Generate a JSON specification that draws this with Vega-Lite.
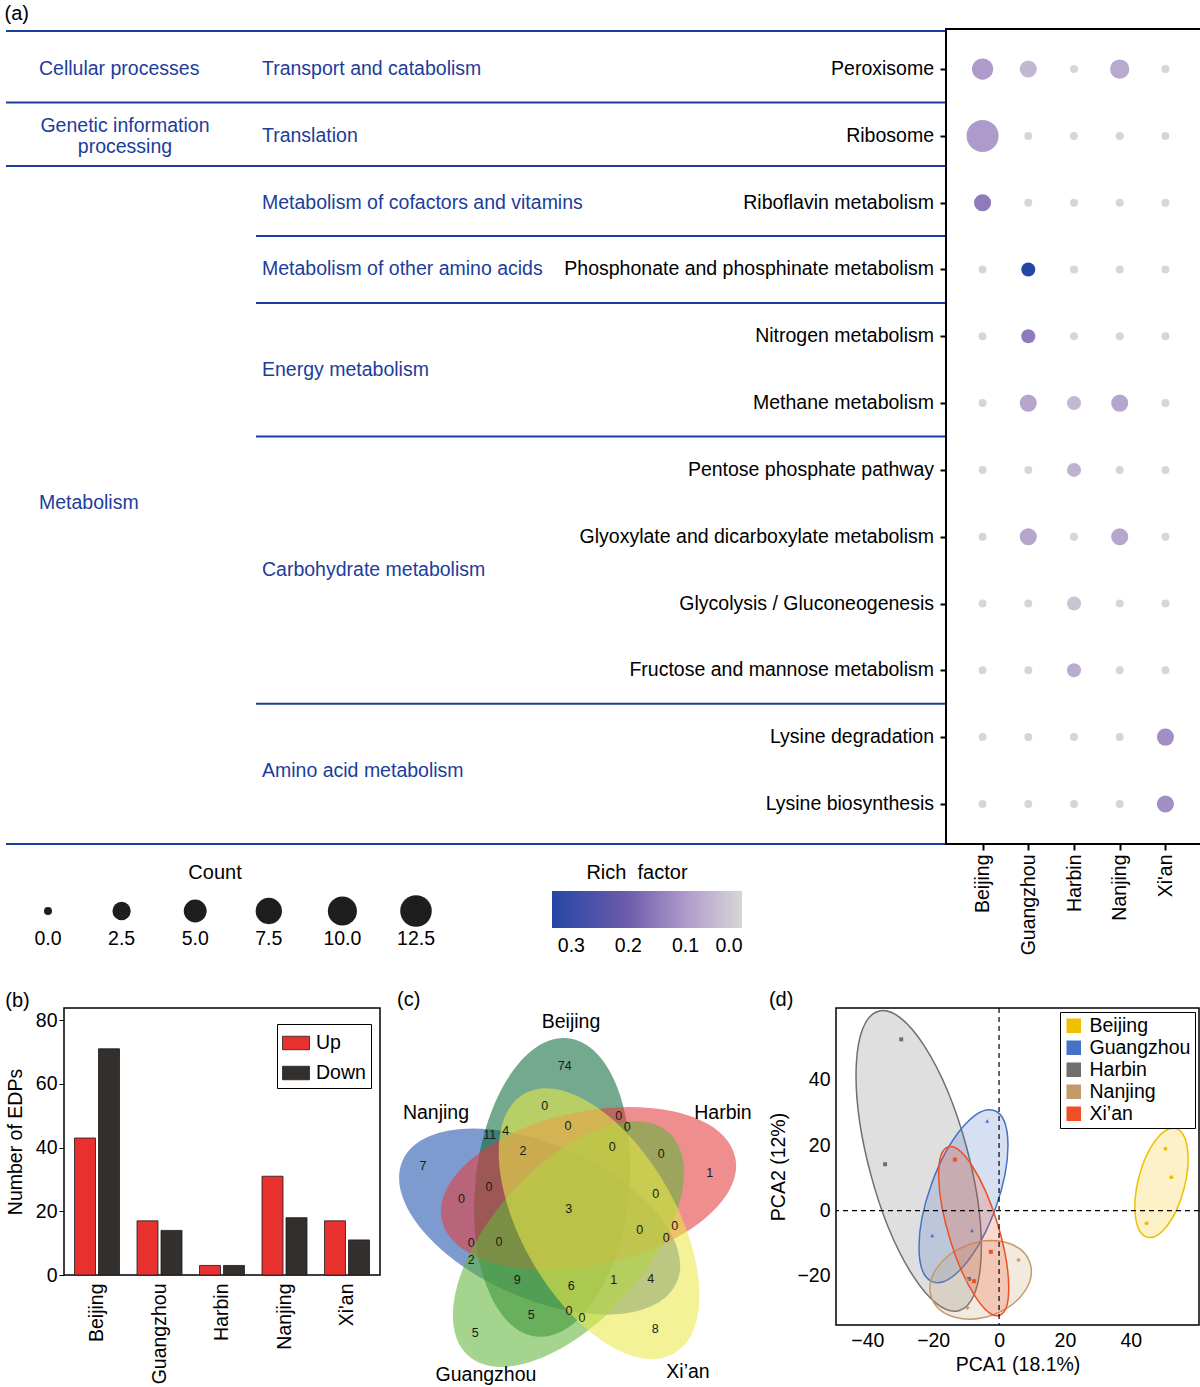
{
  "$schema": "https://vega.github.io/schema/vega-lite/v6.json",
  "padding": {"left": 4, "top": 4, "right": 0, "bottom": 0},
  "title": {"text": "(a)", "anchor": "start", "fontSize": 20, "offset": 4},
  "config": {
    "font": "Liberation Sans",
    "view": {"stroke": null},
    "axis": {"labelFont": "Liberation Sans", "titleFont": "Liberation Sans", "labelFontSize": 19.5, "titleFontSize": 19.5, "titleFontWeight": "normal", "labelColor": "#000", "titleColor": "#000", "tickColor": "#000", "grid": false},
    "legend": {"labelFont": "Liberation Sans", "labelFontSize": 19.5, "labelColor": "#000"},
    "title": {"font": "Liberation Sans", "fontWeight": "normal", "fontSize": 20, "color": "#000"},
    "text": {"font": "Liberation Sans"}
  },
  "datasets": {
    "pathways": [
      {"pathway": "Peroxisome", "rank": 1, "subcategory": "Transport and catabolism", "category": "Cellular processes"},
      {"pathway": "Ribosome", "rank": 2, "subcategory": "Translation", "category": "Genetic information\nprocessing"},
      {"pathway": "Riboflavin metabolism", "rank": 3, "subcategory": "Metabolism of cofactors and vitamins", "category": "Metabolism"},
      {"pathway": "Phosphonate and phosphinate metabolism", "rank": 4, "subcategory": "Metabolism of other amino acids", "category": "Metabolism"},
      {"pathway": "Nitrogen metabolism", "rank": 5, "subcategory": "Energy metabolism", "category": "Metabolism"},
      {"pathway": "Methane metabolism", "rank": 6, "subcategory": "Energy metabolism", "category": "Metabolism"},
      {"pathway": "Pentose phosphate pathway", "rank": 7, "subcategory": "Carbohydrate metabolism", "category": "Metabolism"},
      {"pathway": "Glyoxylate and dicarboxylate metabolism", "rank": 8, "subcategory": "Carbohydrate metabolism", "category": "Metabolism"},
      {"pathway": "Glycolysis / Gluconeogenesis", "rank": 9, "subcategory": "Carbohydrate metabolism", "category": "Metabolism"},
      {"pathway": "Fructose and mannose metabolism", "rank": 10, "subcategory": "Carbohydrate metabolism", "category": "Metabolism"},
      {"pathway": "Lysine degradation", "rank": 11, "subcategory": "Amino acid metabolism", "category": "Metabolism"},
      {"pathway": "Lysine biosynthesis", "rank": 12, "subcategory": "Amino acid metabolism", "category": "Metabolism"}
    ],
    "boundaries": [
      {"boundary_rank": 0.43, "level": 1},
      {"boundary_rank": 1.5, "level": 1},
      {"boundary_rank": 2.45, "level": 1},
      {"boundary_rank": 3.5, "level": 2},
      {"boundary_rank": 4.5, "level": 2},
      {"boundary_rank": 6.5, "level": 2},
      {"boundary_rank": 10.5, "level": 2},
      {"boundary_rank": 12.6, "level": 1}
    ],
    "dots": [
      {"pathway": "Peroxisome", "city": "Beijing", "count": 4, "rich": 0.1},
      {"pathway": "Peroxisome", "city": "Guangzhou", "count": 2, "rich": 0.05},
      {"pathway": "Peroxisome", "city": "Harbin", "count": 0, "rich": 0},
      {"pathway": "Peroxisome", "city": "Nanjing", "count": 3, "rich": 0.075},
      {"pathway": "Peroxisome", "city": "Xi'an", "count": 0, "rich": 0},
      {"pathway": "Ribosome", "city": "Beijing", "count": 13, "rich": 0.1},
      {"pathway": "Ribosome", "city": "Guangzhou", "count": 0, "rich": 0},
      {"pathway": "Ribosome", "city": "Harbin", "count": 0, "rich": 0},
      {"pathway": "Ribosome", "city": "Nanjing", "count": 0, "rich": 0},
      {"pathway": "Ribosome", "city": "Xi'an", "count": 0, "rich": 0},
      {"pathway": "Riboflavin metabolism", "city": "Beijing", "count": 2, "rich": 0.15},
      {"pathway": "Riboflavin metabolism", "city": "Guangzhou", "count": 0, "rich": 0},
      {"pathway": "Riboflavin metabolism", "city": "Harbin", "count": 0, "rich": 0},
      {"pathway": "Riboflavin metabolism", "city": "Nanjing", "count": 0, "rich": 0},
      {"pathway": "Riboflavin metabolism", "city": "Xi'an", "count": 0, "rich": 0},
      {"pathway": "Phosphonate and phosphinate metabolism", "city": "Beijing", "count": 0, "rich": 0},
      {"pathway": "Phosphonate and phosphinate metabolism", "city": "Guangzhou", "count": 1, "rich": 0.333},
      {"pathway": "Phosphonate and phosphinate metabolism", "city": "Harbin", "count": 0, "rich": 0},
      {"pathway": "Phosphonate and phosphinate metabolism", "city": "Nanjing", "count": 0, "rich": 0},
      {"pathway": "Phosphonate and phosphinate metabolism", "city": "Xi'an", "count": 0, "rich": 0},
      {"pathway": "Nitrogen metabolism", "city": "Beijing", "count": 0, "rich": 0},
      {"pathway": "Nitrogen metabolism", "city": "Guangzhou", "count": 1, "rich": 0.15},
      {"pathway": "Nitrogen metabolism", "city": "Harbin", "count": 0, "rich": 0},
      {"pathway": "Nitrogen metabolism", "city": "Nanjing", "count": 0, "rich": 0},
      {"pathway": "Nitrogen metabolism", "city": "Xi'an", "count": 0, "rich": 0},
      {"pathway": "Methane metabolism", "city": "Beijing", "count": 0, "rich": 0},
      {"pathway": "Methane metabolism", "city": "Guangzhou", "count": 2, "rich": 0.08},
      {"pathway": "Methane metabolism", "city": "Harbin", "count": 1, "rich": 0.05},
      {"pathway": "Methane metabolism", "city": "Nanjing", "count": 2, "rich": 0.08},
      {"pathway": "Methane metabolism", "city": "Xi'an", "count": 0, "rich": 0},
      {"pathway": "Pentose phosphate pathway", "city": "Beijing", "count": 0, "rich": 0},
      {"pathway": "Pentose phosphate pathway", "city": "Guangzhou", "count": 0, "rich": 0},
      {"pathway": "Pentose phosphate pathway", "city": "Harbin", "count": 1, "rich": 0.06},
      {"pathway": "Pentose phosphate pathway", "city": "Nanjing", "count": 0, "rich": 0},
      {"pathway": "Pentose phosphate pathway", "city": "Xi'an", "count": 0, "rich": 0},
      {"pathway": "Glyoxylate and dicarboxylate metabolism", "city": "Beijing", "count": 0, "rich": 0},
      {"pathway": "Glyoxylate and dicarboxylate metabolism", "city": "Guangzhou", "count": 2, "rich": 0.08},
      {"pathway": "Glyoxylate and dicarboxylate metabolism", "city": "Harbin", "count": 0, "rich": 0},
      {"pathway": "Glyoxylate and dicarboxylate metabolism", "city": "Nanjing", "count": 2, "rich": 0.08},
      {"pathway": "Glyoxylate and dicarboxylate metabolism", "city": "Xi'an", "count": 0, "rich": 0},
      {"pathway": "Glycolysis / Gluconeogenesis", "city": "Beijing", "count": 0, "rich": 0},
      {"pathway": "Glycolysis / Gluconeogenesis", "city": "Guangzhou", "count": 0, "rich": 0},
      {"pathway": "Glycolysis / Gluconeogenesis", "city": "Harbin", "count": 1, "rich": 0.03},
      {"pathway": "Glycolysis / Gluconeogenesis", "city": "Nanjing", "count": 0, "rich": 0},
      {"pathway": "Glycolysis / Gluconeogenesis", "city": "Xi'an", "count": 0, "rich": 0},
      {"pathway": "Fructose and mannose metabolism", "city": "Beijing", "count": 0, "rich": 0},
      {"pathway": "Fructose and mannose metabolism", "city": "Guangzhou", "count": 0, "rich": 0},
      {"pathway": "Fructose and mannose metabolism", "city": "Harbin", "count": 1, "rich": 0.07},
      {"pathway": "Fructose and mannose metabolism", "city": "Nanjing", "count": 0, "rich": 0},
      {"pathway": "Fructose and mannose metabolism", "city": "Xi'an", "count": 0, "rich": 0},
      {"pathway": "Lysine degradation", "city": "Beijing", "count": 0, "rich": 0},
      {"pathway": "Lysine degradation", "city": "Guangzhou", "count": 0, "rich": 0},
      {"pathway": "Lysine degradation", "city": "Harbin", "count": 0, "rich": 0},
      {"pathway": "Lysine degradation", "city": "Nanjing", "count": 0, "rich": 0},
      {"pathway": "Lysine degradation", "city": "Xi'an", "count": 2, "rich": 0.12},
      {"pathway": "Lysine biosynthesis", "city": "Beijing", "count": 0, "rich": 0},
      {"pathway": "Lysine biosynthesis", "city": "Guangzhou", "count": 0, "rich": 0},
      {"pathway": "Lysine biosynthesis", "city": "Harbin", "count": 0, "rich": 0},
      {"pathway": "Lysine biosynthesis", "city": "Nanjing", "count": 0, "rich": 0},
      {"pathway": "Lysine biosynthesis", "city": "Xi'an", "count": 2, "rich": 0.12}
    ],
    "countBreaks": [{"count": 0}, {"count": 2.5}, {"count": 5}, {"count": 7.5}, {"count": 10}, {"count": 12.5}],
    "richRange": [{"min_rich": 0, "max_rich": 0.333}],
    "edps": [
      {"city": "Beijing", "direction": "Up", "n": 43},
      {"city": "Beijing", "direction": "Down", "n": 71},
      {"city": "Guangzhou", "direction": "Up", "n": 17},
      {"city": "Guangzhou", "direction": "Down", "n": 14},
      {"city": "Harbin", "direction": "Up", "n": 3},
      {"city": "Harbin", "direction": "Down", "n": 3},
      {"city": "Nanjing", "direction": "Up", "n": 31},
      {"city": "Nanjing", "direction": "Down", "n": 18},
      {"city": "Xi'an", "direction": "Up", "n": 17},
      {"city": "Xi'an", "direction": "Down", "n": 11}
    ],
    "vennSets": [
      {"set": "Nanjing", "u": -0.199, "v": -0.057, "angle": 204, "label_u": -0.89, "label_v": 0.667},
      {"set": "Beijing", "u": -0.115, "v": 0.171, "angle": 276, "label_u": 0.01, "label_v": 1.273},
      {"set": "Harbin", "u": 0.127, "v": 0.163, "angle": 348, "label_u": 1.023, "label_v": 0.667},
      {"set": "Guangzhou", "u": -0.007, "v": -0.207, "angle": 132, "label_u": -0.557, "label_v": -1.08},
      {"set": "Xi’an", "u": 0.197, "v": -0.071, "angle": 60, "label_u": 0.79, "label_v": -1.06}
    ],
    "vennRegions": [
      {"u": -0.032, "v": 0.98, "n": 74},
      {"u": -0.165, "v": 0.715, "n": 0},
      {"u": 0.328, "v": 0.649, "n": 0},
      {"u": 0.385, "v": 0.575, "n": 0},
      {"u": -0.532, "v": 0.52, "n": 11},
      {"u": -0.425, "v": 0.549, "n": 4},
      {"u": -0.01, "v": 0.58, "n": 0},
      {"u": -0.31, "v": 0.415, "n": 2},
      {"u": 0.285, "v": 0.438, "n": 0},
      {"u": 0.612, "v": 0.391, "n": 0},
      {"u": -0.977, "v": 0.313, "n": 7},
      {"u": 0.935, "v": 0.265, "n": 1},
      {"u": -0.537, "v": 0.175, "n": 0},
      {"u": -0.721, "v": 0.091, "n": 0},
      {"u": 0.575, "v": 0.125, "n": 0},
      {"u": -0.005, "v": 0.027, "n": 3},
      {"u": 0.468, "v": -0.113, "n": 0},
      {"u": 0.701, "v": -0.085, "n": 0},
      {"u": 0.645, "v": -0.169, "n": 0},
      {"u": -0.655, "v": -0.202, "n": 0},
      {"u": -0.47, "v": -0.191, "n": 0},
      {"u": -0.655, "v": -0.313, "n": 2},
      {"u": -0.348, "v": -0.447, "n": 9},
      {"u": 0.012, "v": -0.487, "n": 6},
      {"u": 0.295, "v": -0.447, "n": 1},
      {"u": 0.541, "v": -0.44, "n": 4},
      {"u": -0.255, "v": -0.68, "n": 5},
      {"u": -0.003, "v": -0.653, "n": 0},
      {"u": 0.083, "v": -0.698, "n": 0},
      {"u": 0.572, "v": -0.775, "n": 8},
      {"u": -0.628, "v": -0.798, "n": 5}
    ],
    "pcaEllipses": [
      {"city": "Harbin", "center_pc1": -24.4, "center_pc2": 15.2, "semi_major": 47.2, "angle": 75},
      {"city": "Guangzhou", "center_pc1": -10.8, "center_pc2": 4.4, "semi_major": 27.7, "angle": -70.3},
      {"city": "Nanjing", "center_pc1": -5.6, "center_pc2": -21.2, "semi_major": 15.9, "angle": -20},
      {"city": "Xi’an", "center_pc1": -7.7, "center_pc2": -6.3, "semi_major": 26.8, "angle": 73.1},
      {"city": "Beijing", "center_pc1": 49.3, "center_pc2": 8.5, "semi_major": 17.1, "angle": -75.4}
    ],
    "pcaSamples": [
      {"city": "Beijing", "pc1": 50.5, "pc2": 18.9},
      {"city": "Beijing", "pc1": 52.3, "pc2": 10.2},
      {"city": "Beijing", "pc1": 44.8, "pc2": -3.9},
      {"city": "Guangzhou", "pc1": -3.6, "pc2": 27.4},
      {"city": "Guangzhou", "pc1": -20.3, "pc2": -7.6},
      {"city": "Guangzhou", "pc1": -8.2, "pc2": -6.1},
      {"city": "Harbin", "pc1": -29.7, "pc2": 52.4},
      {"city": "Harbin", "pc1": -34.6, "pc2": 14.2},
      {"city": "Harbin", "pc1": -9.1, "pc2": -20.9},
      {"city": "Nanjing", "pc1": 5.9, "pc2": -15.1},
      {"city": "Nanjing", "pc1": -9.6, "pc2": -29.7},
      {"city": "Nanjing", "pc1": -9.8, "pc2": -21.2},
      {"city": "Xi’an", "pc1": -13.4, "pc2": 15.6},
      {"city": "Xi’an", "pc1": -2.5, "pc2": -12.6},
      {"city": "Xi’an", "pc1": -7.6, "pc2": -21.6}
    ],
    "origin": [{"zero": 0}]
  },
  "align": "none",
  "spacing": 33,
  "resolve": {"scale": {"color": "independent", "size": "independent", "shape": "independent", "fill": "independent", "stroke": "independent", "opacity": "independent", "angle": "independent"}},
  "vconcat": [
    {
      "spacing": -9,
      "resolve": {"scale": {"color": "independent", "size": "independent", "shape": "independent", "fill": "independent", "stroke": "independent", "opacity": "independent", "angle": "independent"}},
      "hconcat": [
        {
          "spacing": 18,
          "resolve": {"scale": {"color": "independent", "size": "independent", "shape": "independent", "fill": "independent", "stroke": "independent", "opacity": "independent", "angle": "independent"}},
          "vconcat": [
            {
              "width": 881,
              "height": 815,
              "layer": [
                {
                  "data": {"name": "boundaries"},
                  "mark": {"type": "rule", "color": "#1c3d9c", "strokeWidth": 2},
                  "encoding": {
                    "y": {"field": "boundary_rank", "type": "quantitative", "scale": {"domain": [0.4, 12.6], "reverse": true, "nice": false, "zero": false}, "axis": null},
                    "x": {"field": "level", "type": "quantitative", "scale": {"domain": [1, 2, 3], "range": [-58, 192, 881], "nice": false, "zero": false}, "axis": null},
                    "x2": {"datum": 3}
                  }
                },
                {
                  "data": {"name": "pathways"},
                  "mark": {"type": "text", "align": "right", "baseline": "middle", "dx": -11, "fontSize": 19.5, "color": "#000"},
                  "encoding": {
                    "y": {"field": "rank", "type": "quantitative"},
                    "x": {"datum": 3, "type": "quantitative"},
                    "text": {"field": "pathway", "type": "nominal"}
                  }
                },
                {
                  "data": {"name": "pathways"},
                  "transform": [{"aggregate": [{"op": "mean", "field": "rank", "as": "mean_rank"}], "groupby": ["subcategory"]}],
                  "mark": {"type": "text", "align": "left", "baseline": "middle", "dx": 6, "fontSize": 19.5, "color": "#1c3d9c"},
                  "encoding": {
                    "y": {"field": "mean_rank", "type": "quantitative"},
                    "x": {"datum": 2, "type": "quantitative"},
                    "text": {"field": "subcategory", "type": "nominal"}
                  }
                },
                {
                  "data": {"name": "pathways"},
                  "transform": [
                    {"filter": {"field": "category", "oneOf": ["Cellular processes", "Metabolism"]}},
                    {"aggregate": [{"op": "mean", "field": "rank", "as": "mean_rank"}], "groupby": ["category"]}
                  ],
                  "mark": {"type": "text", "align": "left", "baseline": "middle", "dx": 33, "fontSize": 19.5, "color": "#1c3d9c"},
                  "encoding": {
                    "y": {"field": "mean_rank", "type": "quantitative"},
                    "x": {"datum": 1, "type": "quantitative"},
                    "text": {"field": "category", "type": "nominal"}
                  }
                },
                {
                  "data": {"name": "pathways"},
                  "transform": [
                    {"filter": {"field": "category", "equal": "Genetic information\nprocessing"}},
                    {"aggregate": [{"op": "mean", "field": "rank", "as": "mean_rank"}], "groupby": ["category"]}
                  ],
                  "mark": {"type": "text", "align": "center", "baseline": "middle", "dx": 119, "dy": -10, "fontSize": 19.5, "color": "#1c3d9c", "lineBreak": "\n"},
                  "encoding": {
                    "y": {"field": "mean_rank", "type": "quantitative"},
                    "x": {"datum": 1, "type": "quantitative"},
                    "text": {"field": "category", "type": "nominal"}
                  }
                }
              ]
            },
            {
              "spacing": 88,
              "resolve": {"scale": {"color": "independent", "size": "independent", "shape": "independent", "fill": "independent", "stroke": "independent", "opacity": "independent", "angle": "independent"}},
              "hconcat": [
                {
                  "width": 400,
                  "height": 40,
                  "title": {"text": "Count", "fontSize": 20, "offset": 8, "anchor": "middle", "dx": -49},
                  "data": {"name": "countBreaks"},
                  "layer": [
                    {
                      "mark": {"type": "circle", "color": "#1e1e1e", "opacity": 1},
                      "encoding": {
                        "x": {"field": "count", "type": "ordinal", "scale": {"type": "point", "range": [-16, 352], "padding": 0}, "axis": null},
                        "size": {"field": "count", "type": "quantitative", "scale": {"type": "pow", "exponent": 0.77, "domain": [0, 13], "range": [64, 1024]}, "legend": null}
                      }
                    },
                    {
                      "mark": {"type": "text", "dy": 28, "fontSize": 19.5, "color": "#000"},
                      "encoding": {
                        "x": {"field": "count", "type": "ordinal"},
                        "text": {"field": "count", "type": "quantitative", "format": ".1f"}
                      }
                    }
                  ]
                },
                {
                  "width": 190,
                  "height": 37,
                  "title": {"text": "Rich\u00a0 factor", "fontSize": 20, "offset": 8, "anchor": "middle", "dx": -10},
                  "data": {"name": "richRange"},
                  "mark": {"type": "rect", "color": {"gradient": "linear", "x1": 0, "x2": 1, "y1": 0, "y2": 0, "stops": [{"offset": 0, "color": "#2447a4"}, {"offset": 0.4, "color": "#6d5cab"}, {"offset": 0.7, "color": "#ae9acb"}, {"offset": 1, "color": "#d6d6d6"}]}},
                  "encoding": {
                    "x": {"field": "max_rich", "type": "quantitative", "scale": {"domain": [0, 0.333], "reverse": true, "nice": false, "zero": false}, "axis": {"orient": "bottom", "values": [0.3, 0.2, 0.1, 0], "format": ".1f", "domain": false, "ticks": true, "tickColor": "#fff", "tickWidth": 1.5, "tickSize": -6, "labelPadding": 14, "title": null}},
                    "x2": {"field": "min_rich"}
                  }
                }
              ]
            }
          ]
        },
        {
          "width": 256,
          "height": 815,
          "view": {"stroke": "#000", "strokeWidth": 2},
          "data": {"name": "dots"},
          "mark": {"type": "circle", "opacity": 1},
          "encoding": {
            "x": {"field": "city", "type": "nominal", "sort": ["Beijing", "Guangzhou", "Harbin", "Nanjing", "Xi'an"], "scale": {"type": "point", "padding": 0.8}, "axis": {"title": null, "labelAngle": -90, "domain": false, "tickColor": "#000", "tickWidth": 2, "tickSize": 6, "labelPadding": 4, "labelFontSize": 19.5}},
            "y": {"field": "pathway", "type": "nominal", "sort": ["Peroxisome", "Ribosome", "Riboflavin metabolism", "Phosphonate and phosphinate metabolism", "Nitrogen metabolism", "Methane metabolism", "Pentose phosphate pathway", "Glyoxylate and dicarboxylate metabolism", "Glycolysis / Gluconeogenesis", "Fructose and mannose metabolism", "Lysine degradation", "Lysine biosynthesis"], "scale": {"type": "point", "padding": 0.6}, "axis": {"title": null, "labels": false, "domain": false, "tickColor": "#000", "tickWidth": 2, "tickSize": 6}},
            "size": {"field": "count", "type": "quantitative", "scale": {"type": "pow", "exponent": 0.77, "domain": [0, 13], "range": [64, 1024]}, "legend": null},
            "color": {"field": "rich", "type": "quantitative", "scale": {"domain": [0, 0.1, 0.2, 0.333], "range": ["#d6d6d6", "#ae9acb", "#6d5cab", "#2447a4"], "interpolate": "rgb"}, "legend": null}
          }
        }
      ]
    },
    {
      "spacing": 16,
      "resolve": {"scale": {"color": "independent", "size": "independent", "shape": "independent", "fill": "independent", "stroke": "independent", "opacity": "independent", "angle": "independent"}},
      "hconcat": [
        {
          "width": 316,
          "height": 267,
          "view": {"stroke": "#000", "strokeWidth": 1.5},
          "title": {"text": "(b)", "anchor": "start", "frame": "bounds", "fontSize": 20, "offset": -3},
          "data": {"name": "edps"},
          "mark": {"type": "bar", "stroke": "#1a1a1a", "strokeWidth": 0.8},
          "encoding": {
            "x": {"field": "city", "type": "nominal", "sort": ["Beijing", "Guangzhou", "Harbin", "Nanjing", "Xi'an"], "scale": {"paddingInner": 0.28, "paddingOuter": 0.168}, "axis": {"title": null, "labelAngle": -90, "ticks": false, "domain": false, "labelPadding": 8}},
            "xOffset": {"field": "direction", "type": "nominal", "sort": ["Up", "Down"], "scale": {"paddingInner": 0.125, "paddingOuter": 0}},
            "y": {"field": "n", "type": "quantitative", "scale": {"domain": [0, 83.8], "nice": false}, "axis": {"title": "Number of EDPs", "values": [0, 20, 40, 60, 80], "domain": false, "tickSize": 5, "titlePadding": 10}},
            "color": {"field": "direction", "type": "nominal", "sort": ["Up", "Down"], "scale": {"domain": ["Up", "Down"], "range": ["#e8312f", "#332f2d"]}, "legend": {"title": null, "orient": "none", "legendX": 213, "legendY": 16, "padding": 5, "strokeColor": "#000", "fillColor": "#fff", "symbolType": "M-1,-0.5H1V0.5H-1Z", "symbolSize": 729, "symbolStrokeColor": "#222", "symbolStrokeWidth": 0.8, "labelFontSize": 19.5, "rowPadding": 6, "labelOffset": 6}}
          }
        },
        {
          "width": 345,
          "height": 377.5,
          "title": {"text": "(c)", "anchor": "start", "frame": "bounds", "fontSize": 20, "offset": -2},
          "layer": [
            {
              "data": {"name": "vennSets"},
              "mark": {"type": "point", "shape": "M1,0C1,0.2833,0.5523,0.513,0,0.513C-0.5523,0.513,-1,0.2833,-1,0C-1,-0.2833,-0.5523,-0.513,0,-0.513C0.5523,-0.513,1,-0.2833,1,0Z", "size": 90000, "filled": true, "opacity": 0.58, "strokeWidth": 0},
              "encoding": {
                "x": {"field": "u", "type": "quantitative", "scale": {"domain": [-1.15, 1.15], "nice": false, "zero": false}, "axis": null},
                "y": {"field": "v", "type": "quantitative", "scale": {"domain": [-1.15, 1.367], "nice": false, "zero": false}, "axis": null},
                "angle": {"field": "angle", "type": "quantitative", "scale": null},
                "color": {"field": "set", "type": "nominal", "scale": {"domain": ["Beijing", "Harbin", "Xi’an", "Guangzhou", "Nanjing"], "range": ["#0d6a3c", "#e43c3c", "#ebe84a", "#62b53a", "#1f52ad"]}, "legend": null}
              }
            },
            {
              "data": {"name": "vennRegions"},
              "mark": {"type": "text", "fontSize": 12.5, "color": "#1a1a1a"},
              "encoding": {
                "x": {"field": "u", "type": "quantitative"},
                "y": {"field": "v", "type": "quantitative"},
                "text": {"field": "n", "type": "quantitative"}
              }
            },
            {
              "data": {"name": "vennSets"},
              "mark": {"type": "text", "fontSize": 19.5, "color": "#000"},
              "encoding": {
                "x": {"field": "label_u", "type": "quantitative"},
                "y": {"field": "label_v", "type": "quantitative"},
                "text": {"field": "set", "type": "nominal"}
              }
            }
          ]
        },
        {
          "width": 363,
          "height": 317,
          "view": {"stroke": "#000", "strokeWidth": 1.5},
          "title": {"text": "(d)", "anchor": "start", "frame": "bounds", "fontSize": 20, "offset": -3},
          "layer": [
            {
              "data": {"name": "pcaEllipses"},
              "mark": {"type": "point", "filled": true, "opacity": 1, "fillOpacity": 0.22, "strokeOpacity": 1, "strokeWidth": 1.5},
              "encoding": {
                "x": {"field": "center_pc1", "type": "quantitative", "scale": {"domain": [-49.5, 60.7], "nice": false, "zero": false}, "axis": {"title": "PCA1 (18.1%)", "values": [-40, -20, 0, 20, 40], "domain": false, "ticks": false, "labelPadding": 6, "titlePadding": 6}},
                "y": {"field": "center_pc2", "type": "quantitative", "scale": {"domain": [-35, 62], "nice": false, "zero": false}, "axis": {"title": "PCA2 (12%)", "values": [-20, 0, 20, 40], "domain": false, "ticks": false, "labelPadding": 6, "titlePadding": 8}},
                "shape": {"field": "city", "type": "nominal", "scale": {"domain": ["Beijing", "Guangzhou", "Harbin", "Nanjing", "Xi’an"], "range": [
                  "M1,0C1,0.2292,0.5523,0.415,0,0.415C-0.5523,0.415,-1,0.2292,-1,0C-1,-0.2292,-0.5523,-0.415,0,-0.415C0.5523,-0.415,1,-0.2292,1,0Z",
                  "M1,0C1,0.2077,0.5523,0.376,0,0.376C-0.5523,0.376,-1,0.2077,-1,0C-1,-0.2077,-0.5523,-0.376,0,-0.376C0.5523,-0.376,1,-0.2077,1,0Z",
                  "M1,0C1,0.1773,0.5523,0.321,0,0.321C-0.5523,0.321,-1,0.1773,-1,0C-1,-0.1773,-0.5523,-0.321,0,-0.321C0.5523,-0.321,1,-0.1773,1,0Z",
                  "M1,0C1,0.3927,0.5523,0.711,0,0.711C-0.5523,0.711,-1,0.3927,-1,0C-1,-0.3927,-0.5523,-0.711,0,-0.711C0.5523,-0.711,1,-0.3927,1,0Z",
                  "M1,0C1,0.1569,0.5523,0.284,0,0.284C-0.5523,0.284,-1,0.1569,-1,0C-1,-0.1569,-0.5523,-0.284,0,-0.284C0.5523,-0.284,1,-0.1569,1,0Z"
                ]}, "legend": null},
                "size": {"field": "semi_major", "type": "quantitative", "scale": {"type": "pow", "exponent": 2, "domain": [0, 50], "range": [0, 107912]}, "legend": null},
                "angle": {"field": "angle", "type": "quantitative", "scale": null},
                "fill": {"field": "city", "type": "nominal", "scale": {"domain": ["Beijing", "Guangzhou", "Harbin", "Nanjing", "Xi’an"], "range": ["#f0c000", "#4472c4", "#6f6f6f", "#c49a6c", "#f04e23"]}, "legend": {"title": null, "orient": "top-right", "offset": 4, "padding": 4, "strokeColor": "#000", "fillColor": "#fff", "symbolType": "square", "symbolSize": 170, "symbolStrokeWidth": 1.5, "labelFontSize": 19.5, "rowPadding": 1, "labelOffset": 6}},
                "stroke": {"field": "city", "type": "nominal", "scale": {"domain": ["Beijing", "Guangzhou", "Harbin", "Nanjing", "Xi’an"], "range": ["#f0c000", "#4472c4", "#6f6f6f", "#c49a6c", "#f04e23"]}, "legend": {"title": null, "orient": "top-right", "offset": 4, "padding": 4, "strokeColor": "#000", "fillColor": "#fff", "symbolType": "square", "symbolSize": 170, "symbolStrokeWidth": 1.5, "labelFontSize": 19.5, "rowPadding": 1, "labelOffset": 6}}
              }
            },
            {
              "data": {"name": "origin"},
              "mark": {"type": "rule", "strokeDash": [5, 4], "color": "#000", "strokeWidth": 1.2},
              "encoding": {"x": {"field": "zero", "type": "quantitative"}}
            },
            {
              "data": {"name": "origin"},
              "mark": {"type": "rule", "strokeDash": [5, 4], "color": "#000", "strokeWidth": 1.2},
              "encoding": {"y": {"field": "zero", "type": "quantitative"}}
            },
            {
              "data": {"name": "pcaSamples"},
              "mark": {"type": "point", "filled": true, "opacity": 1, "size": 16},
              "encoding": {
                "x": {"field": "pc1", "type": "quantitative"},
                "y": {"field": "pc2", "type": "quantitative"},
                "shape": {"field": "city", "type": "nominal", "scale": {"domain": ["Beijing", "Guangzhou", "Harbin", "Nanjing", "Xi’an"], "range": ["circle", "triangle-up", "square", "cross", "square"]}, "legend": null},
                "color": {"field": "city", "type": "nominal", "scale": {"domain": ["Beijing", "Guangzhou", "Harbin", "Nanjing", "Xi’an"], "range": ["#f0c000", "#4472c4", "#6f6f6f", "#c49a6c", "#f04e23"]}, "legend": null}
              }
            }
          ],
          "resolve": {"scale": {"shape": "independent", "size": "independent"}}
        }
      ]
    }
  ]
}
